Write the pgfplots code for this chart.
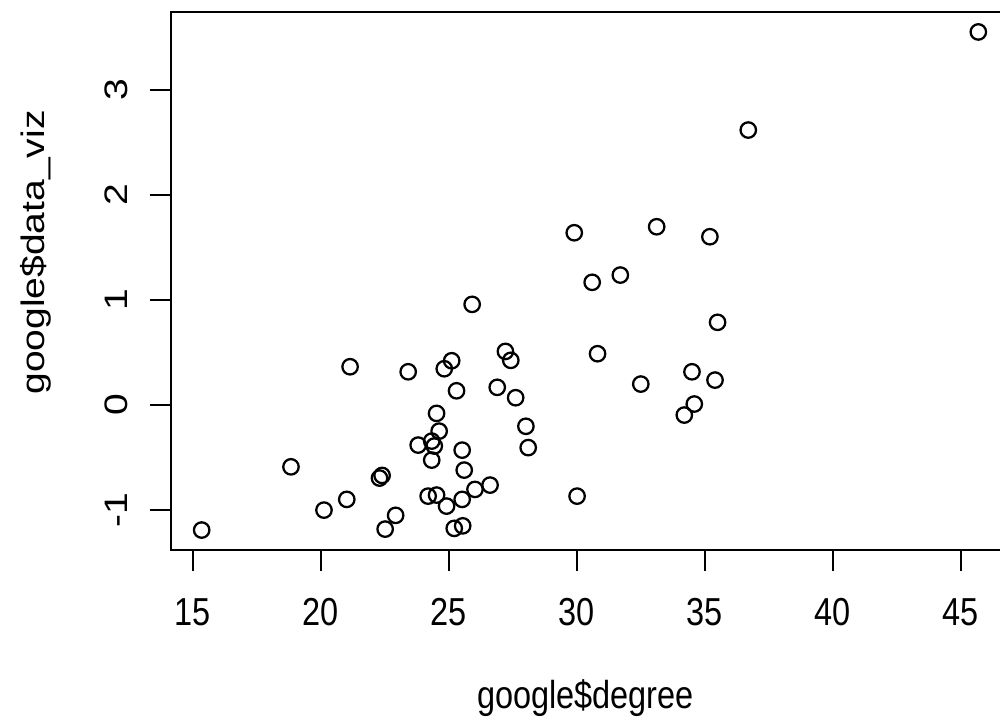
\documentclass[border=0pt]{standalone}
\usepackage{fontspec}
\setmainfont{Liberation Sans}
\newfontfamily\hfont{Liberation Sans}[FakeStretch=0.833]
\newfontfamily\vfont{Liberation Sans}[FakeStretch=1.2]
\usepackage{pgfplots}
\pgfplotsset{compat=1.18}

% 1 px of the reference = 0.75pt
\newcommand{\htext}{\hfont\fontsize{29.25pt}{32pt}\selectfont}
\newcommand{\vtext}{\vfont\fontsize{24.4pt}{28pt}\selectfont}

\pgfplotstableread{
x y
15.34 -1.19
18.83 -0.588
20.12 -1.00
21.01 -0.898
21.14 0.365
22.39 -0.670
22.29 -0.695
22.51 -1.181
22.92 -1.05
23.41 0.317
23.80 -0.381
24.33 -0.343
24.43 -0.39
24.33 -0.524
24.52 -0.079
24.62 -0.248
24.82 0.346
25.11 0.422
25.30 0.136
24.19 -0.867
24.52 -0.857
24.91 -0.962
25.21 -1.174
25.54 -1.15
25.52 -0.429
25.60 -0.619
25.52 -0.898
26.02 -0.803
26.61 -0.762
25.91 0.959
26.89 0.169
27.21 0.511
27.42 0.426
27.61 0.07
28.01 -0.202
28.10 -0.405
29.90 1.641
30.01 -0.867
30.60 1.169
30.81 0.489
31.70 1.238
32.50 0.20
33.12 1.698
34.20 -0.095
34.50 0.317
34.59 0.01
35.20 1.603
35.40 0.238
35.50 0.788
36.70 2.619
45.69 3.553
}\googledata

\begin{document}
\begin{tikzpicture}
\begin{axis}[
  at={(0,0)}, anchor=south west,
  scale only axis, width=629.1pt, height=403.5pt,
  xmin=14.126, xmax=46.904, ymin=-1.38, ymax=3.743,
  axis line style={line width=1.5pt},
  tick align=outside, tick pos=left,
  major tick length=15.75pt,
  tick style={line width=1.5pt, black},
  xtick={15,20,25,30,35,40,45},
  xticklabels={15,20,25,30,35,40,45},
  ytick={-1,0,1,2,3},
  yticklabels={-1,0,1,2,3},
  xticklabel style={font=\htext, anchor=north, inner sep=0pt},
  xticklabel shift=20.25pt,
  yticklabel style={font=\vtext, rotate=90, anchor=south, inner sep=0pt},
  yticklabel shift=16.5pt,
  xlabel={google\$degree},
  ylabel={google\$data\_viz},
  xlabel style={font=\htext, at={(axis description cs:0.4946,-0.2937)}, anchor=base, inner sep=0pt},
  ylabel style={font=\vtext, at={(axis description cs:-0.1509,0.553)}, anchor=base, inner sep=0pt},
]
\addplot[only marks, mark=o, mark size=5.8pt, line width=1.7pt, black] table[x=x, y=y] {\googledata};
\end{axis}
\pgfresetboundingbox
\path[use as bounding box] (-127.95pt,-129pt) rectangle (622.05pt,412.5pt);
\end{tikzpicture}
\end{document}
